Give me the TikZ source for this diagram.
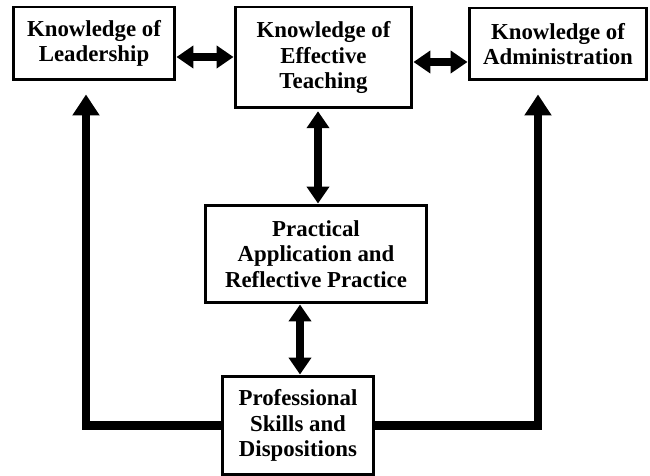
\documentclass[tikz,border=0pt]{standalone}
\usepackage{fontspec}
\setmainfont{Liberation Serif}
\usepackage{tikz}
\usetikzlibrary{arrows.meta, positioning, calc}

\begin{document}
\begin{tikzpicture}[
    x=0.02cm, y=-0.02cm,
    area/.style={rectangle, draw=black, line width=1.7pt, fill=white, align=center, inner sep=2pt, font=\bfseries\fontsize{13}{14.4}\selectfont},
    dbl/.style={{Triangle[width=0.44cm, length=0.34cm]}-{Triangle[width=0.44cm, length=0.34cm]}, line width=4.5pt},
    feed/.style={-{Triangle[width=0.52cm, length=0.42cm]}, line width=4.8pt, line join=miter}
]
\useasboundingbox (0,0) rectangle (650,476);

% Areas
\node[area, minimum width=3.24cm, minimum height=1.46cm] (lead) at (94, 43.5) {Knowledge of\\Leadership};
\node[area, minimum width=3.54cm, minimum height=2.02cm] (teach) at (323.5, 57.5) {Knowledge of\\Effective\\Teaching};
\node[area, minimum width=3.56cm, minimum height=1.44cm] (admin) at (558, 44) {Knowledge of\\Administration};
\node[area, minimum width=4.44cm, minimum height=1.96cm] (pract) at (316, 254) {Practical\\Application and\\Reflective Practice};
\node[area, minimum width=3.04cm, minimum height=1.98cm] (prof) at (298, 425.5) {Professional\\Skills and\\Dispositions};

% Links between areas
\draw[dbl] ([yshift=-0.27cm]lead.east) -- ([yshift=-0.27cm]lead.east -| teach.west);
\draw[dbl] ([yshift=-0.36cm]admin.west -| teach.east) -- ([yshift=-0.36cm]admin.west);
\draw[dbl, shorten <=1pt] ([xshift=-0.11cm]teach.south) -- ([xshift=-0.11cm]teach.south |- pract.north);
\draw[dbl] ([xshift=0.04cm]prof.north |- pract.south) -- ([xshift=0.04cm]prof.north);

% Feedback lines
\draw[feed, shorten >=0.26cm] (prof.west) -| ([xshift=-0.16cm]lead.south);
\draw[feed, shorten >=0.26cm] (prof.east) -| ([xshift=-0.4cm]admin.south);

\end{tikzpicture}
\end{document}
